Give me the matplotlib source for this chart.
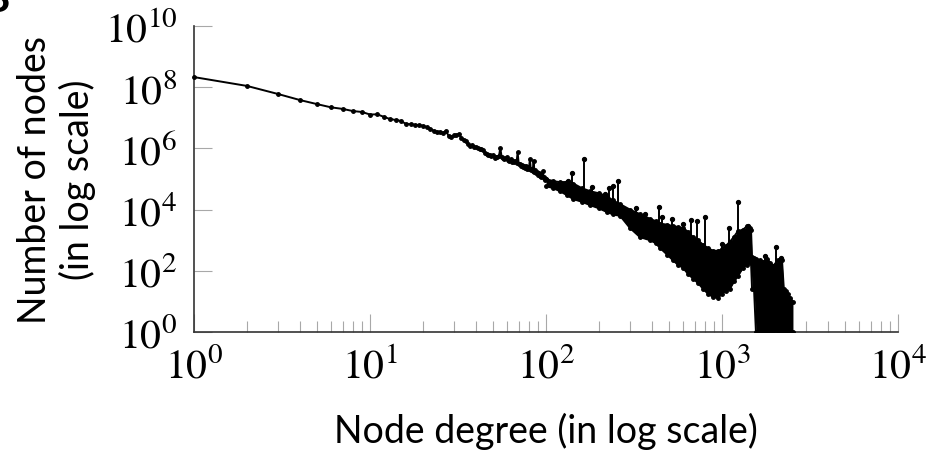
import numpy as np
import matplotlib
matplotlib.use("Agg")
import matplotlib.pyplot as plt
from matplotlib.ticker import LogLocator, FixedLocator, NullLocator, FuncFormatter, NullFormatter

# ---------------- data ----------------
# smooth / lightly noisy part of the degree distribution (degree -> number of nodes)
line_deg = list(range(1, 101))
line_cnt = [
    2.14e8, 1.10e8, 6.0e7, 3.8e7, 2.8e7, 2.2e7, 1.95e7, 1.66e7, 1.55e7, 1.28e7,
    1.30e7, 1.07e7, 9.1e6, 8.5e6, 7.9e6, 6.3e6, 6.2e6, 5.9e6, 5.8e6, 5.5e6,
    5.0e6, 4.4e6, 3.8e6, 3.5e6, 3.5e6, 3.2e6, 3.8e6, 2.5e6, 2.3e6, 2.7e6,
    2.75e6, 3.0e6, 2.2e6, 1.9e6, 1.7e6, 1.35e6, 1.2e6, 1.3e6, 1.15e6, 1.1e6,
    1.05e6, 9.8e5, 9.5e5, 9.1e5, 7.2e5, 6.6e5, 6.3e5, 5.9e5, 5.6e5, 6.0e5,
    5.0e5, 5.4e5, 5.1e5, 5.5e5, 1.02e6, 5.2e5, 4.8e5, 4.6e5, 5.0e5, 5.2e5,
    4.3e5, 4.0e5, 4.4e5, 3.7e5, 4.0e5, 3.5e5, 3.8e5, 3.3e5, 7.6e5, 3.0e5,
    3.2e5, 2.6e5, 2.9e5, 2.45e5, 2.75e5, 2.35e5, 2.6e5, 2.2e5, 2.4e5, 2.1e5,
    4.5e5, 2.0e5, 2.2e5, 1.8e5, 4.0e5, 1.75e5, 1.9e5, 1.6e5, 1.75e5, 1.4e5,
    1.6e5, 1.3e5, 1.5e5, 1.2e5, 1.3e5, 1.8e5, 1.05e5, 1.15e5, 9.1e4, 1.0e5,
]

# dense, strongly fluctuating tail: upper and lower envelope of the counts
band_deg = [100, 110, 120, 131, 143, 160, 178, 200, 222, 240, 264, 300, 342,
            390, 420, 444, 490, 527, 560, 600, 640, 684, 730, 780, 830, 889,
            949, 1000, 1050, 1110, 1170, 1233, 1316, 1387, 1442, 1462, 1481,
            1520, 1559, 1644, 1720, 1803, 1880, 1950, 2081, 2193, 2245, 2300,
            2371, 2450, 2530]
band_hi = [1.0e5, 8.5e4, 7.9e4, 8.0e4, 7.1e4, 5.0e4, 4.0e4, 3.4e4, 2.75e4,
           2.0e4, 1.5e4, 1.0e4, 7.1e3, 5.0e3, 4.2e3, 3.5e3, 3.2e3, 2.9e3,
           2.7e3, 2.5e3, 1.9e3, 1.26e3, 1.0e3, 710, 560, 450, 450, 500, 650,
           890, 1.3e3, 2.0e3, 2.2e3, 2.9e3, 2.5e3, 2.2e3, 280, 260, 250, 220,
           200, 250, 180, 145, 220, 220, 26, 22, 17, 13, 9.5]
band_lo = [5.9e4, 5.0e4, 4.0e4, 3.0e4, 2.2e4, 1.8e4, 1.4e4, 1.1e4, 8.3e3,
           7.0e3, 6.2e3, 2.5e3, 1.26e3, 1.0e3, 800, 560, 330, 220, 160, 126,
           80, 56, 40, 26, 18, 14, 13, 18, 22, 26, 45, 68, 126, 160, 195,
           180, 26, 26, 1, 1, 1, 1, 1, 1, 1, 1, 1, 1, 1, 1, 1]

# isolated outlier spikes above the tail: degree, base count, peak count
spike_deg = [133, 140, 164, 183, 216, 228, 241, 258, 324, 351, 365, 439, 456,
             520, 600, 667, 721, 800, 1000, 1096, 1233, 1406, 1754, 2027, 2163]
spike_base = [5.5e4, 5.0e4, 4.0e4, 2.8e4, 2.0e4, 1.8e4, 1.6e4, 1.26e4, 5.0e3,
              3.2e3, 3.2e3, 2.8e3, 2.5e3, 2.0e3, 1.6e3, 1.0e3, 890, 560, 400,
              710, 1.6e3, 2.0e3, 200, 140, 200]
spike_top = [8.5e4, 1.6e5, 4.5e5, 5.5e4, 3.2e4, 5.1e4, 5.9e4, 8.3e4, 1.15e4,
             4.9e3, 7.2e3, 1.26e4, 5.6e3, 5.1e3, 3.4e3, 4.5e3, 4.1e3, 5.6e3,
             760, 2.6e3, 1.8e4, 3.0e3, 300, 600, 260]

x_ticks = [1e0, 1e1, 1e2, 1e3, 1e4]
y_ticks = [1e0, 1e2, 1e4, 1e6, 1e8, 1e10]

# ---------------- figure ----------------
plt.rcParams["font.family"] = ["Lato", "DejaVu Sans"]
plt.rcParams["mathtext.fontset"] = "stix"

fig = plt.figure(figsize=(9.27, 4.52), dpi=100)
ax = fig.add_axes([194 / 927, 1 - 333 / 452, 704 / 927, 306 / 452])

ax.set_xscale("log")
ax.set_yscale("log")
ax.set_xlim(1, 1e4)
ax.set_ylim(1, 1e10)

ax.plot(line_deg, line_cnt, color="black", lw=1.4, marker="o", ms=2.5,
        clip_on=False, zorder=3)
ax.fill_between(band_deg, band_lo, band_hi, color="black", lw=0, zorder=3)
ax.plot(band_deg, band_hi, color="black", lw=1.4, marker="o", ms=2.5, zorder=3)
ax.plot(band_deg, band_lo, color="black", lw=1.4, marker="o", ms=2.5, zorder=3)
ax.vlines(spike_deg, spike_base, spike_top, colors="black", lw=1.4, zorder=3)
ax.plot(spike_deg, spike_top, "o", color="black", ms=2.8, zorder=3)

# axes styling
for s in ("top", "right"):
    ax.spines[s].set_visible(False)
for s in ("left", "bottom"):
    ax.spines[s].set_color("#333333")
    ax.spines[s].set_linewidth(1.2)

ax.xaxis.set_major_locator(FixedLocator(x_ticks))
ax.xaxis.set_minor_locator(LogLocator(base=10, subs=np.arange(2, 10), numticks=100))
ax.xaxis.set_minor_formatter(NullFormatter())
ax.yaxis.set_major_locator(FixedLocator(y_ticks))
ax.yaxis.set_minor_locator(NullLocator())
fmt = FuncFormatter(lambda v, p: r"$10^{%d}$" % int(round(np.log10(v))))
ax.xaxis.set_major_formatter(fmt)
ax.yaxis.set_major_formatter(fmt)

ax.tick_params(which="major", direction="in", length=13, width=0.8,
               color="#a8a8a8", labelsize=30)
ax.tick_params(which="minor", direction="in", length=8, width=0.8,
               color="#a8a8a8")
ax.tick_params(axis="x", which="major", pad=10)
ax.tick_params(axis="y", which="major", pad=12)

ax.set_xlabel("Node degree (in log scale)", fontsize=27)
ax.xaxis.set_label_coords(0.5, -0.359)
ax.xaxis.label.set_va("baseline")

ax.set_ylabel("Number of nodes\n(in log scale)", fontsize=27, linespacing=1.2)
ax.yaxis.set_label_coords(-0.195, 0.5)
ax.yaxis.label.set_va("center")

fig.text(10 / 927, 1 - 12 / 452, "B", ha="right", va="baseline",
         fontsize=30, fontweight="bold")

fig.savefig("out.png", dpi=100)
